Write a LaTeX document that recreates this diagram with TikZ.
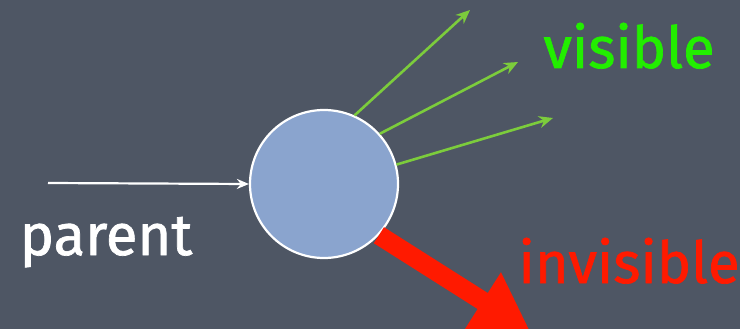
\documentclass[tikz,border=0pt]{standalone}
\usepackage{fontspec}
\setmainfont{Fira Sans}[FakeBold=1.2]
\usetikzlibrary{arrows.meta}
\definecolor{bgslate}{RGB}{78,86,100}
\definecolor{ballblue}{RGB}{138,164,206}
\definecolor{arrowgreen}{RGB}{124,204,60}
\definecolor{textgreen}{RGB}{34,238,0}
\definecolor{hotred}{RGB}{255,26,0}
\tikzset{
  ball/.style={circle, draw=white, line width=2.2pt, fill=ballblue, minimum size=148pt, inner sep=0pt},
  parentarrow/.style={draw=white, line width=2.2pt, -{Stealth[length=12pt,width=10pt]}},
  visarrow/.style={draw=arrowgreen, line width=2.6pt, -{Stealth[length=14pt,width=12pt]}},
  invisarrow/.style={draw=hotred, line width=19pt, -{Triangle[length=56pt,width=64pt]}},
  lbl/.style={anchor=base, inner sep=0pt, font=\fontsize{58}{60}\selectfont}
}
\begin{document}
\begin{tikzpicture}[x=1pt,y=-1pt]
\fill[bgslate] (0,0) rectangle (740,329);
\useasboundingbox (0,0) rectangle (740,329);
\node[ball] (c) at (324,184) {};
\coordinate (p0) at (48,183);
\coordinate (g1) at (470,10);
\coordinate (g2) at (518,62);
\coordinate (g3) at (553,118);
\coordinate (r1) at (530,331);
\draw[parentarrow] (p0) -- (c.180);
\draw[visarrow] (c.66) -- (g1);
\draw[visarrow] (c.42) -- (g2);
\draw[visarrow] (c.15) -- (g3);
\draw[invisarrow] (c.-43) -- (r1);
\node[lbl, text=white] (parent) at (106,255) {parent};
\node[lbl, text=textgreen] (visible) at (629,68) {visible};
\node[lbl, text=hotred] (invisible) at (629,283) {invisible};
\end{tikzpicture}
\end{document}
